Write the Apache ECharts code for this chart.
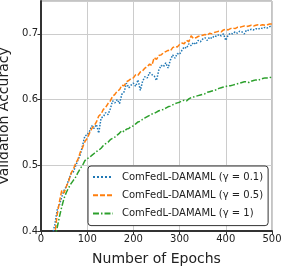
<!DOCTYPE html>
<html><head><meta charset="utf-8">
<script src="https://cdn.jsdelivr.net/npm/echarts@6/dist/echarts.min.js"></script>
<style>html,body{margin:0;padding:0;background:#fff}#c{width:281px;height:266px}</style>
</head><body><div id="c"></div>
<script>
var epochs = [25,30,35,40,45,50,55,60,65,70,75,80,85,90,95,100,105,110,115,120,125,130,135,140,145,150,155,160,165,170,175,180,185,190,195,200,205,210,215,220,225,230,235,240,245,250,255,260,265,270,275,280,285,290,295,300,305,310,315,320,325,330,335,340,345,350,355,360,365,370,375,380,385,390,395,400,405,410,415,420,425,430,435,440,445,450,455,460,465,470,475,480,485,490,495,500];
var gamma01 = [0.395,0.41,0.432,0.44,0.452,0.462,0.468,0.478,0.487,0.490,0.499,0.508,0.516,0.530,0.545,0.546,0.552,0.560,0.556,0.562,0.549,0.572,0.574,0.580,0.577,0.586,0.598,0.595,0.600,0.594,0.608,0.612,0.625,0.618,0.622,0.625,0.620,0.630,0.614,0.628,0.635,0.633,0.641,0.638,0.636,0.629,0.645,0.652,0.650,0.656,0.648,0.660,0.668,0.663,0.670,0.669,0.675,0.680,0.678,0.685,0.682,0.687,0.684,0.690,0.688,0.692,0.694,0.690,0.695,0.693,0.697,0.696,0.699,0.697,0.700,0.690,0.698,0.701,0.700,0.703,0.701,0.704,0.703,0.700,0.706,0.705,0.707,0.706,0.708,0.707,0.709,0.708,0.710,0.709,0.711,0.712];
var gamma05 = [0.37,0.395,0.425,0.445,0.462,0.458,0.468,0.476,0.488,0.494,0.503,0.509,0.520,0.527,0.536,0.541,0.549,0.556,0.560,0.566,0.575,0.578,0.585,0.588,0.594,0.598,0.605,0.608,0.613,0.615,0.622,0.621,0.627,0.629,0.632,0.633,0.638,0.637,0.642,0.644,0.648,0.650,0.654,0.652,0.664,0.661,0.667,0.668,0.671,0.673,0.675,0.674,0.679,0.681,0.680,0.684,0.686,0.685,0.690,0.688,0.697,0.693,0.694,0.696,0.697,0.698,0.699,0.698,0.701,0.700,0.702,0.703,0.704,0.703,0.706,0.707,0.706,0.708,0.709,0.708,0.710,0.710,0.711,0.712,0.711,0.712,0.713,0.712,0.713,0.714,0.713,0.714,0.713,0.714,0.715,0.715];
var gamma1 = [0.37,0.39,0.405,0.422,0.437,0.450,0.459,0.466,0.472,0.477,0.482,0.489,0.495,0.500,0.507,0.510,0.512,0.515,0.518,0.521,0.523,0.526,0.530,0.533,0.535,0.539,0.541,0.543,0.546,0.549,0.553,0.551,0.555,0.556,0.559,0.560,0.563,0.566,0.567,0.570,0.572,0.574,0.576,0.578,0.579,0.581,0.583,0.584,0.585,0.587,0.589,0.590,0.592,0.594,0.595,0.596,0.598,0.599,0.598,0.601,0.603,0.604,0.605,0.606,0.607,0.608,0.609,0.611,0.612,0.613,0.614,0.615,0.617,0.618,0.619,0.620,0.621,0.621,0.622,0.623,0.624,0.625,0.626,0.627,0.627,0.626,0.628,0.629,0.630,0.629,0.631,0.632,0.633,0.633,0.634,0.633];
var seriesNames = ['ComFedL-DAMAML (\u03b3 = 0.1)','ComFedL-DAMAML (\u03b3 = 0.5)','ComFedL-DAMAML (\u03b3 = 1)'];
var colors = ['#1f77b4','#ff7f0e','#2ca02c'];
var dashes = ['dotted',[5,2],[6,2,1.5,2]];
var xTicks = [0,100,200,300,400,500];
var yTicks = [0.4,0.5,0.6,0.7];

function pairs(v){ return epochs.map(function(e,i){ return [e, v[i]]; }); }
var allVals = [gamma01, gamma05, gamma1];
var font = 'DejaVu Sans';
var chart = echarts.init(document.getElementById('c'));
chart.setOption({
  animation:false,
  grid:{left:41,right:9,top:1,bottom:35,show:true,borderColor:'#888',borderWidth:1,containLabel:false,outerBoundsMode:'none'},
  xAxis:{type:'value',min:0,max:500,interval:100,
    name:'Number of Epochs',nameLocation:'middle',nameGap:21,
    nameTextStyle:{fontFamily:font,fontSize:14,color:'#222'},
    axisLine:{show:true,lineStyle:{color:'#333',width:2}},
    axisTick:{show:true,length:3.5,lineStyle:{color:'#333'}},
    axisLabel:{fontFamily:font,fontSize:10,color:'#222',margin:3,
      formatter:function(v){return xTicks.indexOf(v)>=0?String(v):'';}},
    splitLine:{show:true,lineStyle:{color:'#ccc',width:1}}},
  yAxis:{type:'value',min:0.4,max:0.75,interval:0.1,
    name:'Validation Accuracy',nameLocation:'middle',nameGap:27,
    nameTextStyle:{fontFamily:font,fontSize:14,color:'#222'},
    axisLine:{show:true,lineStyle:{color:'#333',width:2}},
    axisTick:{show:true,length:3.5,lineStyle:{color:'#333'}},
    axisLabel:{fontFamily:font,fontSize:10,color:'#222',margin:3,showMaxLabel:false,
      formatter:function(v){var r=Math.round(v*10)/10;return Math.abs(v-r)<1e-6?r.toFixed(1):'';}},
    splitLine:{show:true,lineStyle:{color:'#ccc',width:1}}},
  legend:{orient:'vertical',left:88,top:166,itemWidth:20,itemHeight:10,itemGap:8.3,
    padding:[6,5,7,4],backgroundColor:'#fff',borderColor:'#333',borderWidth:1,borderRadius:3,
    itemStyle:{opacity:0},
    textStyle:{fontFamily:font,fontSize:10,color:'#222',padding:[0,0,0,4]},
    data:seriesNames},
  series: allVals.map(function(v,i){
    return {type:'line',name:seriesNames[i],data:pairs(v),symbol:'none',clip:true,
      lineStyle:{color:colors[i],width:1.5,type:dashes[i]},itemStyle:{color:colors[i]}};
  })
});
</script></body></html>
